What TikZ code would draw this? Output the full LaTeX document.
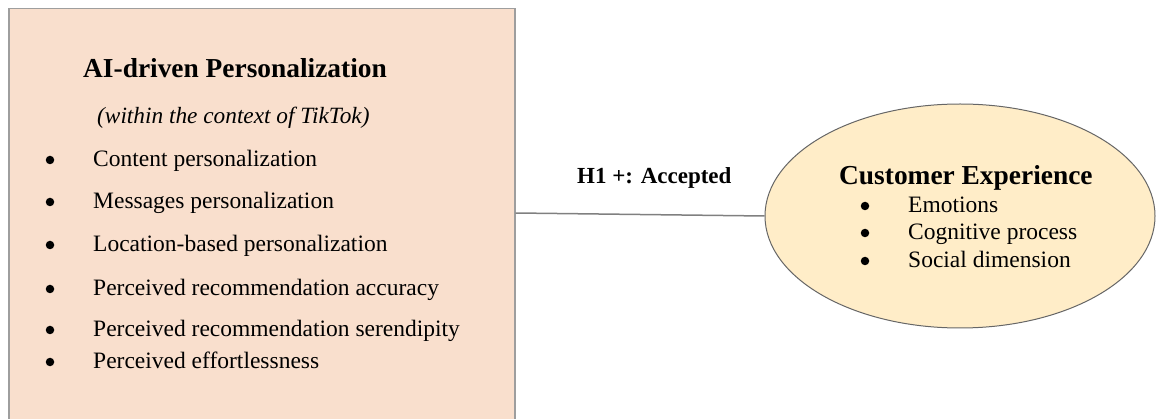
\documentclass[tikz,border=0pt]{standalone}
\usepackage{fontspec}
\setmainfont{Liberation Serif}
\usetikzlibrary{shapes.geometric}
\definecolor{boxfill}{HTML}{F9DFCD}
\definecolor{ovalfill}{HTML}{FFEDC8}

\begin{document}
\begin{tikzpicture}[x=1pt,y=-1pt,
	txt/.style={anchor=base west,inner sep=0pt},
	dot/.style={circle,fill=black,inner sep=0pt,minimum size=8.5pt},
	item/.style={txt,font=\fontsize{23.5}{26}\selectfont}]
	\useasboundingbox (0,0) rectangle (1156,419);
	\clip (0,0) rectangle (1156,419);
	\node[draw=black!38,line width=1.5pt,fill=boxfill,minimum width=506pt,minimum height=440pt,inner sep=0pt,anchor=north west] (pers) at (8,8) {}; %AI box
	\node[ellipse,draw=black!60,line width=1pt,fill=ovalfill,minimum width=390pt,minimum height=224pt,inner sep=0pt] (cx) at (960,216) {}; %CX
	\draw[black!50,line width=1.5pt] (pers.east |- 0,213) -- (cx.west); %H1
	\node[txt,font=\bfseries\fontsize{27.4}{30}\selectfont] (ttl) at (83,78) {AI-driven Personalization};
	\node[txt,font=\itshape\fontsize{23.3}{26}\selectfont] (sub) at (97,124) {(within the context of TikTok)};
	\foreach \t/\y [count=\i] in {Content personalization/167,Messages personalization/209,Location-based personalization/252,Perceived recommendation accuracy/296,Perceived recommendation serendipity/337,Perceived effortlessness/369}{ %left list
		\node[dot] (lb\i) at (50,\y-7) {};
		\node[item] (li\i) at (93,\y) {\t};
	}
	\node[txt,font=\bfseries\fontsize{23}{26}\selectfont] (hyp) at (577,184) {H1 +: Accepted};
	\node[txt,font=\bfseries\fontsize{27.4}{30}\selectfont] (cxt) at (839,185) {Customer Experience};
	\foreach \t/\y [count=\i] in {Emotions/213,Cognitive process/240,Social dimension/268}{ %right list
		\node[dot] (rb\i) at (865,\y-7) {};
		\node[item] (ri\i) at (908,\y) {\t};
	}
\end{tikzpicture}
\end{document}
